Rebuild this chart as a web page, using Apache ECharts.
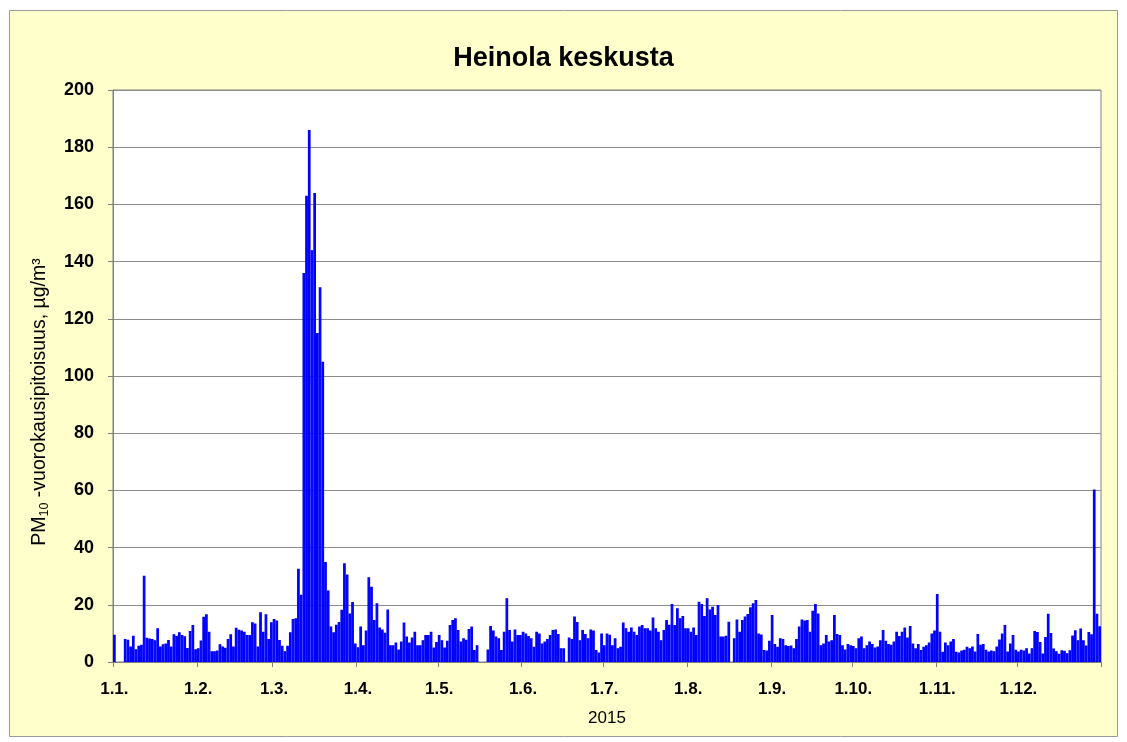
<!DOCTYPE html>
<html><head><meta charset="utf-8">
<script src="https://cdn.jsdelivr.net/npm/echarts@6/dist/echarts.min.js"></script>
<style>html,body{margin:0;padding:0;background:#fff}#c{width:1127px;height:742px}</style>
</head><body><div id="c"></div>
<script>
const FONT = '"Liberation Sans", Arial, sans-serif';
const monthLengths = [31,28,31,30,31,30,31,31,30,31,30,31];
const yTicks = [0,20,40,60,80,100,120,140,160,180,200];

const jan = [9.5,null,null,null,8.0,7.8,5.4,9.2,4.5,5.7,6.0,30.2,8.5,8.2,8.0,7.6,11.8,5.4,6.2,6.5,7.7,5.4,9.7,9.2,10.4,9.4,9.0,4.9,10.8,12.9,4.5];
const feb = [4.8,7.5,15.8,16.7,10.6,3.8,3.8,4.0,6.2,5.4,5.0,8.0,9.7,5.4,12.0,11.3,11.0,10.6,9.4,9.4,13.9,13.5,5.4,17.4,10.6,16.7,8.0,13.9];
const mar = [15.0,14.5,7.7,5.7,3.8,5.7,10.4,15.0,15.3,32.6,23.5,136,163,186,144,164,115,131,105,35,25,12.4,10.4,13.0,14.0,18.3,34.5,30.6,17.0,21.0,6.5];
const apr = [5.2,12.4,5.9,11.0,29.6,26.3,14.7,20.5,12.1,11.4,10.2,18.4,5.9,5.9,6.8,4.4,7.2,13.8,8.9,6.8,8.6,10.6,5.9,5.9,7.6,9.4,9.4,10.6,5.1,7.0];
const may = [9.4,7.6,5.1,7.4,12.9,14.7,15.3,11.2,7.2,8.3,7.8,11.5,12.4,4.2,5.9,null,null,null,4.4,12.6,11.0,8.9,8.3,4.2,10.6,22.3,11.2,7.2,11.4,9.4,9.4];
const jun = [10.6,10.0,9.1,8.3,5.3,10.6,10.0,6.5,7.2,8.0,9.4,11.2,11.4,9.8,4.8,4.8,null,8.6,8.0,15.9,14.0,7.6,11.2,9.8,8.3,11.4,11.0,4.2,3.3,10.0];
const jul = [5.9,10.0,9.5,5.9,8.3,4.8,5.3,13.8,11.8,10.6,12.1,10.6,9.4,12.4,12.9,11.8,11.8,11.0,15.6,11.8,10.6,7.6,11.2,14.7,13.0,20.3,12.9,18.8,15.3,16.1,11.8];
const aug = [11.8,10.6,12.1,9.4,21.1,20.3,16.1,22.3,18.4,19.3,16.4,19.9,8.9,8.9,9.2,14.1,null,8.3,14.9,10.6,14.7,15.9,16.8,19.1,20.5,21.7,10.0,9.6,4.2,4.0,7.4];
const sep = [16.4,6.3,5.3,8.3,8.0,5.9,5.6,5.8,4.8,8.0,12.4,14.9,14.5,14.7,10.6,17.9,20.3,17.0,5.9,6.5,9.4,7.2,7.6,16.4,9.8,9.4,5.9,4.4,6.3,5.9];
const oct = [5.6,4.8,8.3,8.9,4.8,5.9,7.2,6.3,5.1,5.4,7.6,11.2,7.4,6.3,6.0,7.2,10.6,9.1,10.6,12.1,8.6,12.6,6.5,4.8,6.3,4.2,5.3,5.9,6.8,10.0,11.0];
const nov = [23.8,10.6,3.6,6.8,5.9,7.2,8.0,3.6,3.3,4.0,4.3,5.3,4.8,5.4,3.7,9.8,6.0,6.3,4.3,3.7,4.0,3.8,5.4,7.9,10.0,12.9,3.7,6.5,9.4,4.3];
const dec = [3.7,4.3,4.0,4.8,3.0,4.8,10.8,10.5,7.0,3.0,8.7,16.9,10.1,4.7,3.8,2.9,4.1,3.9,3.1,4.1,9.3,11.1,7.6,11.7,7.6,5.8,10.5,9.7,60.3,16.9,12.5];

const values = [].concat(jan, feb, mar, apr, may, jun, jul, aug, sep, oct, nov, dec);
const categories = [];
monthLengths.forEach(function (n, m) {
  for (let d = 1; d <= n; d++) categories.push(d + '.' + (m + 1) + '.');
});
function isMonthStart(i, v) { return String(v).split('.')[0] === '1'; }

const chart = echarts.init(document.getElementById('c'), null, {renderer: 'canvas'});
chart.setOption({
  animation: false,
  backgroundColor: '#ffffff',
  textStyle: {fontFamily: FONT},
  graphic: [{
    type: 'rect', z: -10, silent: true,
    shape: {x: 9.5, y: 10.5, width: 1108, height: 726},
    style: {fill: '#FFFFCC', stroke: '#9a9a9a', lineWidth: 1}
  }],
  title: {
    text: 'Heinola keskusta', left: 'center', top: 45, padding: 0,
    textStyle: {fontFamily: FONT, fontSize: 27, fontWeight: 'bold', color: '#000'}
  },
  grid: {
    left: 113, right: 26, top: 90, bottom: 80,
    show: true, backgroundColor: '#ffffff', borderColor: '#808080', borderWidth: 1
  },
  xAxis: {
    type: 'category', data: categories, boundaryGap: true,
    name: '2015', nameLocation: 'middle', nameGap: 48,
    nameTextStyle: {fontFamily: FONT, fontSize: 17, color: '#000'},
    axisLine: {show: true, lineStyle: {color: '#808080', width: 1}},
    axisTick: {show: true, interval: isMonthStart, length: 5, lineStyle: {color: '#808080'}},
    axisLabel: {interval: isMonthStart, margin: 19, fontFamily: FONT, fontSize: 17, fontWeight: 'bold', color: '#000'},
    splitLine: {show: false}
  },
  yAxis: {
    type: 'value', min: yTicks[0], max: yTicks[yTicks.length - 1], interval: 20,
    name: '{a|PM}{b|10}{a| -vuorokausipitoisuus, µg/m³}',
    nameLocation: 'middle', nameRotate: 90, nameGap: 62,
    nameTextStyle: {
      fontFamily: FONT, color: '#000', padding: [0, 52, 0, 0],
      rich: {
        a: {fontFamily: FONT, fontSize: 19.5, color: '#000', lineHeight: 22},
        b: {fontFamily: FONT, fontSize: 12.5, color: '#000', verticalAlign: 'bottom', lineHeight: 22, padding: [7, 0, 0, 0]}
      }
    },
    axisLine: {show: true, lineStyle: {color: '#808080', width: 1}},
    axisTick: {show: true, length: 5, lineStyle: {color: '#808080'}},
    axisLabel: {margin: 19, fontFamily: FONT, fontSize: 18, fontWeight: 'bold', color: '#000'},
    splitLine: {show: true, lineStyle: {color: '#8c8c8c', width: 1}}
  },
  series: [{
    type: 'bar', data: values, barCategoryGap: '0%',
    itemStyle: {color: '#0000FF', borderColor: '#0000FF', borderWidth: 1.2},
    emphasis: {disabled: true}
  }]
});
</script></body></html>
